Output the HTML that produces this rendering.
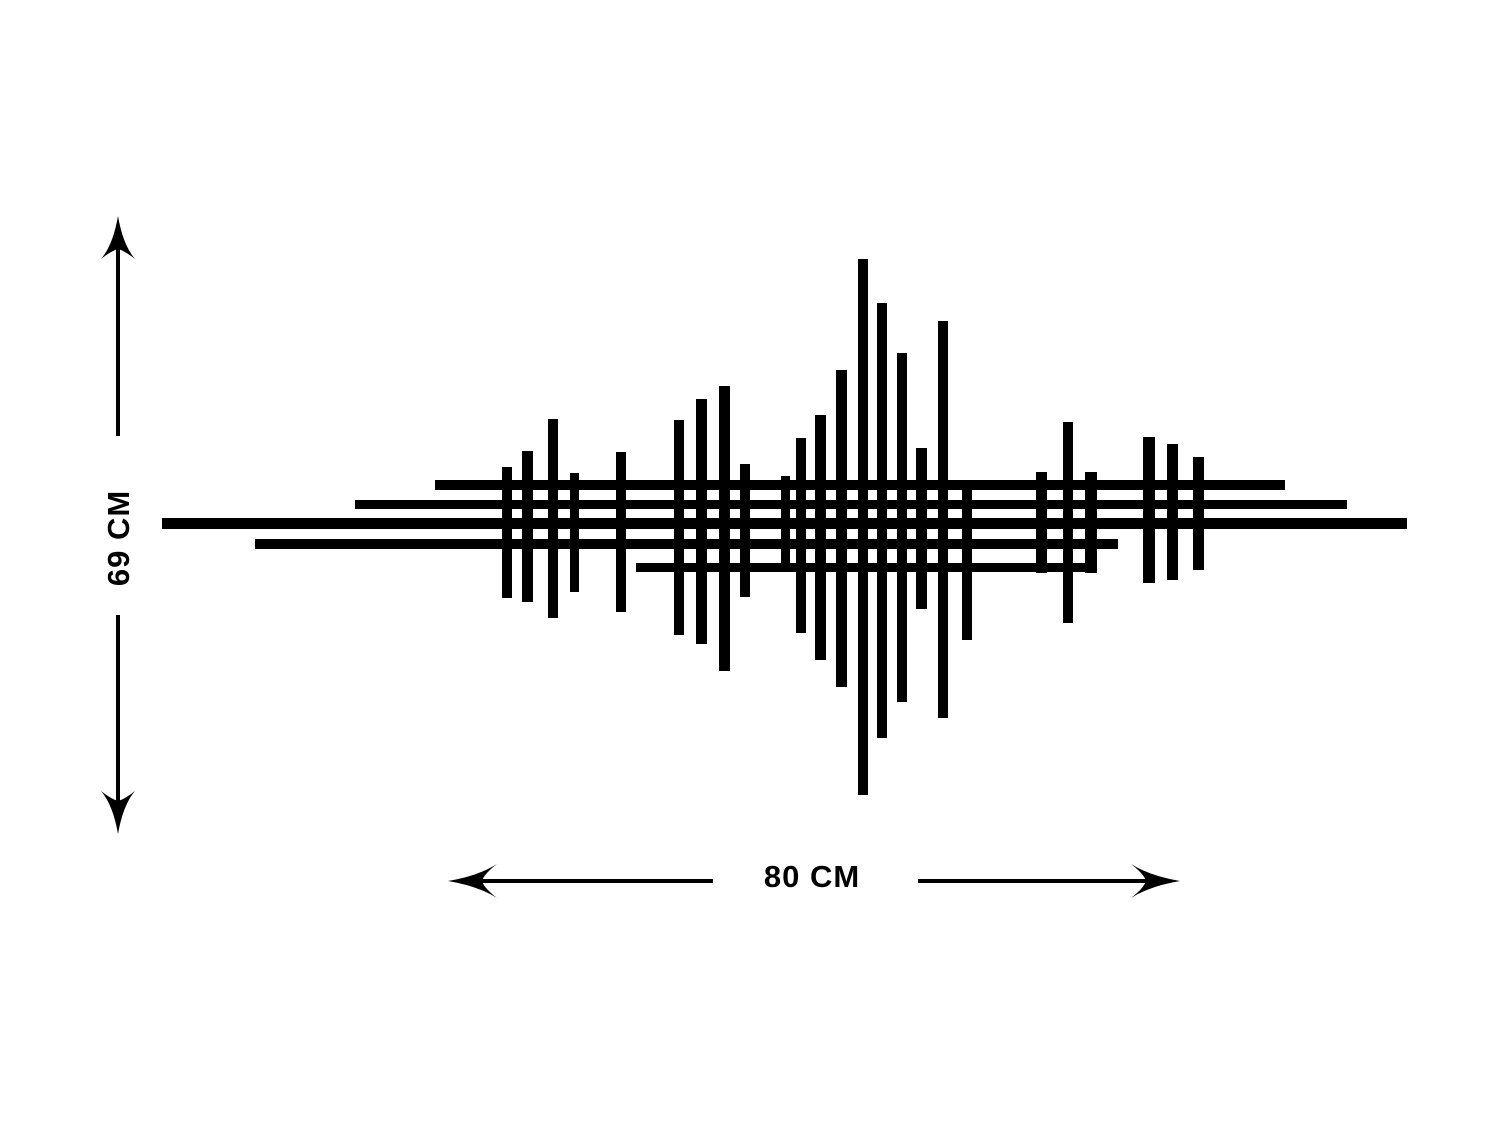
<!DOCTYPE html>
<html><head><style>html,body{margin:0;padding:0;background:#fff}</style></head>
<body>
<svg width="1500" height="1125" viewBox="0 0 1500 1125" xmlns="http://www.w3.org/2000/svg">
<rect width="1500" height="1125" fill="#fff"/>
<g fill="#000">
<rect x="435" y="480" width="850" height="10"/>
<rect x="355" y="500" width="992" height="9"/>
<rect x="162" y="518" width="1245" height="11"/>
<rect x="255" y="539" width="863" height="10"/>
<rect x="636" y="563" width="461" height="9"/>
<rect x="502" y="467" width="10" height="131"/>
<rect x="522" y="451" width="11" height="151"/>
<rect x="548" y="419" width="10" height="199"/>
<rect x="570" y="473" width="9" height="119"/>
<rect x="616" y="452" width="10" height="160"/>
<rect x="674" y="420" width="10" height="215"/>
<rect x="696" y="399" width="11" height="245"/>
<rect x="719" y="386" width="11" height="285"/>
<rect x="740" y="464" width="10" height="133"/>
<rect x="781" y="476" width="9" height="87"/>
<rect x="796" y="438" width="10" height="195"/>
<rect x="815" y="415" width="11" height="245"/>
<rect x="836" y="370" width="11" height="317"/>
<rect x="858" y="259" width="10" height="536"/>
<rect x="877" y="303" width="10" height="435"/>
<rect x="897" y="353" width="10" height="349"/>
<rect x="916" y="448" width="11" height="161"/>
<rect x="938" y="321" width="10" height="397"/>
<rect x="962" y="480" width="10" height="160"/>
<rect x="1036" y="472" width="11" height="101"/>
<rect x="1063" y="422" width="10" height="201"/>
<rect x="1085" y="472" width="12" height="101"/>
<rect x="1143" y="437" width="12" height="146"/>
<rect x="1167" y="444" width="11" height="136"/>
<rect x="1193" y="457" width="11" height="113"/>
</g>
<g fill="#000" stroke="none">
<rect x="116" y="245" width="4" height="191"/>
<path d="M118 216 Q123 245 135 259 Q125 251 118 249 Q111 251 101 259 Q113 245 118 216Z"/>
<rect x="116" y="615" width="4" height="195"/>
<path d="M118 834 Q123 805 135 791 Q125 799 118 801 Q111 799 101 791 Q113 805 118 834Z"/>
<rect x="475" y="879" width="238" height="4"/>
<path d="M448 881 Q478 876 497 864 Q484 874 482 881 Q484 888 497 898 Q478 886 448 881Z"/>
<rect x="918" y="879" width="235" height="4"/>
<path d="M1180 881 Q1150 876 1131 864 Q1144 874 1146 881 Q1144 888 1131 898 Q1150 886 1180 881Z"/>
</g>
<text x="812" y="887" text-anchor="middle" font-family="Liberation Sans, sans-serif" font-weight="bold" font-size="31" letter-spacing="1">80 CM</text>
<text transform="translate(129,538) rotate(-90)" text-anchor="middle" font-family="Liberation Sans, sans-serif" font-weight="bold" font-size="31" letter-spacing="1">69 CM</text>
</svg>
</body></html>
